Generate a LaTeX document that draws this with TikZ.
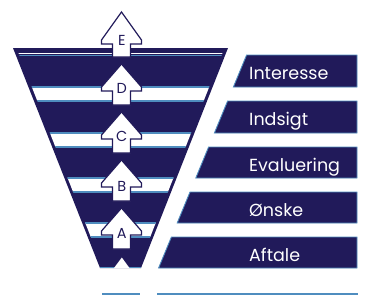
\documentclass[tikz,border=0pt]{standalone}
\usepackage{fontspec}
\setmainfont{Poppins}
\definecolor{navy}{HTML}{211A5A}
\definecolor{bl}{HTML}{4F8DBF}
\begin{document}
\begin{tikzpicture}[x=1pt,y=-1pt,
  bandline/.style={bl,line width=1.2pt},
  labelbox/.style={fill=navy,draw=bl,line width=0.9pt},
  lbl/.style={text=white,font=\fontsize{17.5}{18}\selectfont,anchor=base west,inner sep=0pt},
  arrowbox/.style={fill=white,draw=navy,line width=1.2pt,line join=miter},
  letter/.style={text=navy,font=\fontsize{14.5}{15}\selectfont,inner sep=0pt}]
\useasboundingbox (0,0) rectangle (366,295);
% funnel
\fill[navy] (13,48) -- (228,48) -- (141,268) -- (100,268) -- cycle;
\begin{scope}
  \clip (16.5,48) -- (224.5,48) -- (138,268) -- (103,268) -- cycle;
  \draw[white,line width=1.2pt] (0,53.6) -- (366,53.6);
  \draw[bl,line width=0.8pt] (0,55) -- (366,55);
  \foreach \a/\b in {87/101,133/147,178/192,223/237}{
    \fill[white] (0,\a) rectangle (366,\b);
    \draw[bandline] (0,\a) -- (366,\a);
    \draw[bandline] (0,\b) -- (366,\b);
  }
\end{scope}
\draw[bandline] (100,267.6) -- (141,267.6);
% label boxes
\draw[labelbox] (246.6,55) -- (357,55) -- (357,87) -- (233.4,87) -- cycle;
\draw[labelbox] (227.6,101) -- (357,101) -- (357,133) -- (214.4,133) -- cycle;
\draw[labelbox] (208.6,147) -- (357,147) -- (357,178) -- (195.8,178) -- cycle;
\draw[labelbox] (190.0,192) -- (357,192) -- (357,223) -- (177.2,223) -- cycle;
\draw[labelbox] (171.4,237) -- (357,237) -- (357,268) -- (158.6,268) -- cycle;
\node[lbl] (l1) at (249,79) {Interesse};
\node[lbl] (l2) at (249,125) {Indsigt};
\node[lbl] (l3) at (249,171) {Evaluering};
\node[lbl] (l4) at (249,216) {Ønske};
\node[lbl] (l5) at (249,261) {Aftale};
% cut-off next elements
\draw[bl,line width=1.6pt] (102,294) -- (140,294);
\draw[bl,line width=1.6pt] (157,294) -- (358,294);
% arrows
\foreach \t/\h/\bot in {12/28/57,64/23/105,112/23/153,160/23/201,208/23/249}{
  \draw[arrowbox] (121.5,\t) -- (141.5,\t+\h) -- (141.5,\t+\h+4) -- (130.5,\t+\h+4)
     -- (130.5,\bot) -- (112.5,\bot) -- (112.5,\t+\h+4) -- (101.5,\t+\h+4)
     -- (101.5,\t+\h) -- cycle;
}
\fill[white] (121.8,257.5) -- (129.5,268) -- (114,268) -- cycle;
\node[letter] (aE) at (121.8,40) {E};
\node[letter] (aD) at (121.8,88) {D};
\node[letter] (aC) at (121.8,136.5) {C};
\node[letter] (aB) at (121.8,186) {B};
\node[letter] (aA) at (121.8,233) {A};
\end{tikzpicture}
\end{document}
